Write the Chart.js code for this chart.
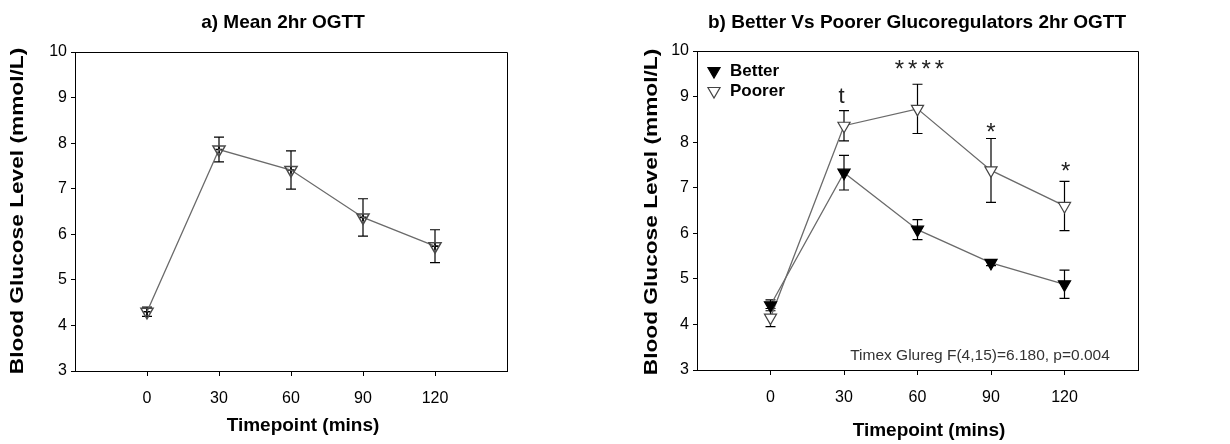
<!DOCTYPE html>
<html>
<head>
<meta charset="utf-8">
<title>OGTT</title>
<script src="https://cdn.jsdelivr.net/npm/chart.js@4.4.1/dist/chart.umd.min.js"></script>
<style>
  html, body { margin: 0; padding: 0; background: #fff; }
  #wrap { position: relative; width: 1230px; height: 444px; overflow: hidden; }
  .panel { position: absolute; top: 0; width: 615px; height: 444px; }
</style>
</head>
<body>
<div id="wrap">
  <div class="panel" style="left:0"><canvas id="chartA" width="615" height="444"></canvas></div>
  <div class="panel" style="left:615px"><canvas id="chartB" width="615" height="444"></canvas></div>
</div>
<script>
// data
var timepoints = [0, 30, 60, 90, 120];

var meanAll = [4.30, 7.86, 7.41, 6.37, 5.74];
var errAll  = [0.10, 0.27, 0.42, 0.41, 0.36];

var better    = [4.42, 7.33, 6.08, 5.35, 4.88];
var errBetter = [0.12, 0.38, 0.22, 0.06, 0.31];
var poorer    = [4.15, 8.36, 8.73, 7.38, 6.60];
var errPoorer = [0.20, 0.33, 0.54, 0.70, 0.54];

// significance marks (b)
var noteText = ['t', '****', '*', '*'];
var noteX = [29, 60.8, 90, 120.5];
var noteY = [8.85, 9.43, 8.04, 7.20];
var statText = 'Timex Glureg F(4,15)=6.180, p=0.004';
var statX = 138.5, statY = 3.22;

var FONT = '"Liberation Sans", Arial, Helvetica, sans-serif';
Chart.defaults.font.family = FONT;
Chart.defaults.color = '#000';

function pts(ys) {
  return timepoints.map(function (t, i) { return { x: t, y: ys[i] }; });
}
function alignPx(v) { return Math.round(v - 0.5) + 0.5; }

function downTriangle(ctx, x, y, r) {
  ctx.beginPath();
  ctx.moveTo(x - r * 0.866, y - r * 0.5);
  ctx.lineTo(x + r * 0.866, y - r * 0.5);
  ctx.lineTo(x, y + r);
  ctx.closePath();
}

// vertical error bars with caps, drawn under the lines and markers
var errorBars = {
  id: 'errorBars',
  beforeDatasetsDraw: function (chart) {
    var ctx = chart.ctx, xs = chart.scales.x, ys = chart.scales.y;
    chart.data.datasets.forEach(function (ds) {
      if (!ds.errors) return;
      ctx.save();
      ctx.strokeStyle = '#000';
      ctx.lineWidth = 1.2;
      ds.data.forEach(function (p, i) {
        var e = ds.errors[i];
        var px = xs.getPixelForValue(p.x);
        var top = ys.getPixelForValue(p.y + e);
        var bot = ys.getPixelForValue(p.y - e);
        ctx.beginPath();
        ctx.moveTo(px, top); ctx.lineTo(px, bot);
        ctx.moveTo(px - 5, top); ctx.lineTo(px + 5, top);
        ctx.moveTo(px - 5, bot); ctx.lineTo(px + 5, bot);
        ctx.stroke();
      });
      ctx.restore();
    });
  }
};

// frame, titles, axis titles, notes and the inside legend
var panelText = {
  id: 'panelText',
  afterDraw: function (chart, args, o) {
    var ctx = chart.ctx, a = chart.chartArea;
    var xs = chart.scales.x, ys = chart.scales.y;
    ctx.save();
    ctx.strokeStyle = '#000';
    ctx.lineWidth = 1;
    ctx.beginPath();
    ctx.moveTo(alignPx(a.left), alignPx(a.top));
    ctx.lineTo(alignPx(a.right), alignPx(a.top));
    ctx.lineTo(alignPx(a.right), alignPx(a.bottom));
    ctx.stroke();

    ctx.fillStyle = '#000';
    ctx.textAlign = 'center';
    ctx.textBaseline = 'middle';
    ctx.font = 'bold 19px ' + FONT;
    ctx.fillText(o.title, o.titleX, o.titleY);
    ctx.fillText('Timepoint (mins)', o.xTitleX, o.xTitleY);

    ctx.save();
    ctx.translate(o.yTitleX, o.yTitleY);
    ctx.rotate(-Math.PI / 2);
    ctx.scale(1.26, 1);
    ctx.font = 'bold 18px ' + FONT;
    ctx.fillText('Blood Glucose Level (mmol/L)', 0, 0);
    ctx.restore();

    if (o.notes) {
      ctx.fillStyle = '#222';
      ctx.textBaseline = 'alphabetic';
      ctx.textAlign = 'center';
      noteText.forEach(function (t, i) {
        var px = xs.getPixelForValue(noteX[i]);
        if (t === 't') {
          ctx.font = '22px ' + FONT;
          ctx.letterSpacing = '0px';
        } else {
          ctx.font = '24px ' + FONT;
          ctx.letterSpacing = '4px';
          px += 2;
        }
        ctx.fillText(t, px, ys.getPixelForValue(noteY[i]));
      });
      ctx.letterSpacing = '0px';
      ctx.fillStyle = '#333';
      ctx.textAlign = 'right';
      ctx.font = '15.5px ' + FONT;
      ctx.fillText(statText, xs.getPixelForValue(statX), ys.getPixelForValue(statY));
    }

    if (o.legend) {
      ctx.textAlign = 'left';
      ctx.textBaseline = 'middle';
      ctx.font = 'bold 17px ' + FONT;
      chart.data.datasets.forEach(function (ds, i) {
        var cy = a.top + 20 + i * 20;
        var cx = a.left + 17;
        downTriangle(ctx, cx, cy, 7);
        ctx.fillStyle = ds.pointBackgroundColor;
        ctx.fill();
        ctx.strokeStyle = ds.pointBorderColor;
        ctx.lineWidth = 1.2;
        ctx.stroke();
        ctx.fillStyle = '#000';
        ctx.fillText(ds.label, a.left + 33, cy);
      });
    }
    ctx.restore();
  }
};

function makeScales(yWidth, xHeight) {
  return {
    x: {
      type: 'linear', min: -30, max: 150,
      afterBuildTicks: function (s) { s.ticks = timepoints.map(function (v) { return { value: v }; }); },
      afterFit: function (s) { s.height = xHeight; },
      grid: { drawOnChartArea: false, drawTicks: true, tickLength: 5, color: '#000' },
      border: { display: true, color: '#000', width: 1 },
      ticks: { font: { size: 16 }, color: '#000', padding: 13, maxRotation: 0 }
    },
    y: {
      type: 'linear', min: 3, max: 10,
      afterFit: function (s) { s.width = yWidth; },
      grid: { drawOnChartArea: false, drawTicks: true, tickLength: 4, color: '#000' },
      border: { display: true, color: '#000', width: 1 },
      ticks: { stepSize: 1, font: { size: 16 }, color: '#000', padding: 4 }
    }
  };
}

var common = {
  responsive: false,
  animation: false,
  events: []
};

var chartA = new Chart(document.getElementById('chartA'), {
  type: 'scatter',
  data: {
    datasets: [{
      label: 'Mean',
      data: pts(meanAll),
      errors: errAll,
      showLine: true,
      borderColor: '#6a6a6a',
      borderWidth: 1.3,
      pointStyle: 'triangle',
      rotation: 180,
      pointRadius: 7,
      pointBackgroundColor: 'rgba(255,255,255,0)',
      pointBorderColor: '#4a4a4a',
      pointBorderWidth: 1.5
    }, {
      label: 'Mean centre',
      data: pts(meanAll),
      showLine: false,
      pointStyle: 'cross',
      pointRadius: 3.5,
      pointBorderColor: '#000',
      pointBorderWidth: 1.6
    }]
  },
  options: Object.assign({}, common, {
    layout: { padding: { top: 52, right: 108, bottom: 0, left: 0 } },
    scales: makeScales(75, 73),
    plugins: {
      legend: { display: false },
      tooltip: { enabled: false },
      panelText: {
        title: 'a) Mean 2hr OGTT', titleX: 283, titleY: 23,
        xTitleX: 303, xTitleY: 426,
        yTitleX: 18, yTitleY: 211
      }
    }
  }),
  plugins: [errorBars, panelText]
});

var chartB = new Chart(document.getElementById('chartB'), {
  type: 'scatter',
  data: {
    datasets: [{
      label: 'Better',
      data: pts(better),
      errors: errBetter,
      showLine: true,
      borderColor: '#6a6a6a',
      borderWidth: 1.3,
      pointStyle: 'triangle',
      rotation: 180,
      pointRadius: 7,
      pointBackgroundColor: '#000',
      pointBorderColor: '#000',
      pointBorderWidth: 1.2
    }, {
      label: 'Poorer',
      data: pts(poorer),
      errors: errPoorer,
      showLine: true,
      borderColor: '#6a6a6a',
      borderWidth: 1.3,
      pointStyle: 'triangle',
      rotation: 180,
      pointRadius: 7,
      pointBackgroundColor: '#fff',
      pointBorderColor: '#444',
      pointBorderWidth: 1.2
    }]
  },
  options: Object.assign({}, common, {
    layout: { padding: { top: 51, right: 92, bottom: 0, left: 0 } },
    scales: makeScales(82, 74),
    plugins: {
      legend: { display: false },
      tooltip: { enabled: false },
      panelText: {
        title: 'b) Better Vs Poorer Glucoregulators 2hr OGTT', titleX: 302, titleY: 23,
        xTitleX: 314, xTitleY: 431,
        yTitleX: 37, yTitleY: 212,
        notes: true, legend: true
      }
    }
  }),
  plugins: [errorBars, panelText]
});
</script>
</body>
</html>
